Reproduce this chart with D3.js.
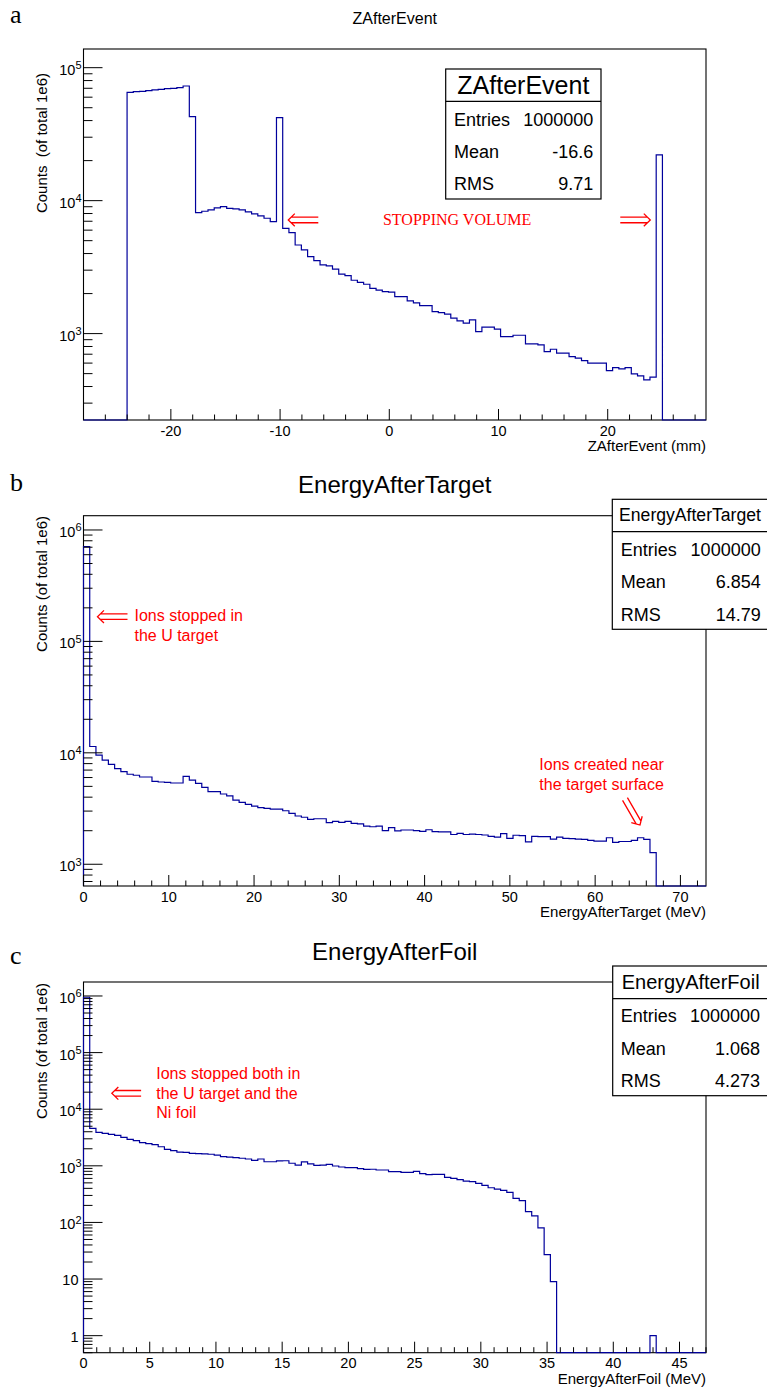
<!DOCTYPE html>
<html>
<head>
<meta charset="utf-8">
<script src="https://cdn.jsdelivr.net/npm/d3@7"></script>
<style>
  body { margin: 0; background: #fff; }
  svg text { font-family: "Liberation Sans", Arial, Helvetica, sans-serif; }
</style>
</head>
<body>
<svg id="chart" width="767" height="1389"></svg>
<script>
// ---- bin contents (100 bins per histogram) ----
const zAfterEventCounts = [
  0, 0, 0, 0, 0, 0, 0, 65300, 66100, 66400,
  67200, 68000, 68800, 69500, 70000, 70900, 72800, 42800, 8130, 8320,
  8510, 8810, 9020, 8760, 8670, 8510, 8220, 7940, 7670, 7370,
  6950, 42100, 6190, 5740, 4640, 4260, 3790, 3540, 3290, 3230,
  3050, 2800, 2730, 2520, 2430, 2350, 2190, 2120, 2070, 2050,
  1900, 1900, 1760, 1700, 1625, 1625, 1465, 1440, 1400, 1306,
  1246, 1197, 1268, 1035, 1117, 1117, 1079, 950, 950, 972,
  972, 837, 837, 822, 732, 763, 712, 712, 672, 653,
  627, 599, 599, 599, 527, 555, 543, 555, 498, 481,
  449, 470, 22100, 0, 0, 0, 0, 0, 0, 0
];
const energyAfterTargetCounts = [
  710000, 11400, 9550, 8600, 7880, 7210, 6780, 6420, 6290, 6070,
  6070, 5550, 5470, 5430, 5360, 5360, 6150, 5700, 5330, 4900,
  4480, 4480, 4270, 4100, 3770, 3590, 3450, 3330, 3220, 3170,
  3130, 3130, 3020, 2860, 2710, 2640, 2530, 2560, 2560, 2360,
  2430, 2380, 2430, 2330, 2300, 2200, 2170, 2200, 2000, 2130,
  1990, 2030, 2030, 2000, 1970, 2040, 1960, 1950, 1950, 1850,
  1890, 1850, 1860, 1850, 1830, 1780, 1750, 1880, 1710, 1820,
  1810, 1590, 1780, 1770, 1770, 1680, 1750, 1710, 1700, 1680,
  1670, 1640, 1610, 1610, 1730, 1570, 1600, 1600, 1640, 1730,
  1670, 1270, 0, 0, 0, 0, 0, 0, 0, 0
];
const energyAfterFoilCounts = [
  950000, 4590, 3910, 3750, 3600, 3460, 3190, 2940, 2780, 2560,
  2460, 2360, 2170, 1950, 1850, 1750, 1730, 1660, 1640, 1620,
  1600, 1550, 1450, 1430, 1390, 1360, 1320, 1250, 1320, 1180,
  1180, 1220, 1230, 1110, 1030, 1170, 1080, 1020, 1030, 1060,
  993, 953, 927, 927, 889, 866, 870, 843, 843, 790,
  787, 767, 767, 798, 726, 697, 706, 706, 627, 601,
  569, 538, 524, 490, 452, 410, 389, 369, 340, 267,
  242, 155, 131, 80, 27, 9, 0, 0, 0, 0,
  0, 0, 0, 0, 0, 0, 0, 0, 0, 0,
  0, 1, 0, 0, 0, 0, 0, 0, 0, 0
];

// ---- axis ranges ----
const zRange = [-28, 29];
const targetRange = [0, 73];
const foilRange = [0, 47];
const zCountRange = [224, 1.382e5];
const targetCountRange = [638, 1.343e6];
const foilCountRange = [0.5, 1.766e6];

// ---- statistics boxes ----
const statLabels = ["Entries", "Mean", "RMS"];
const zStats = ["1000000", "-16.6", "9.71"];
const targetStats = ["1000000", "6.854", "14.79"];
const foilStats = ["1000000", "1.068", "4.273"];

const svg = d3.select("#chart");
const LEFT = 83.5, RIGHT = 706;
const HIST_COLOR = "#00009c";
const RED = "#ff0000";

const panels = [
  {
    letter: "a", letterY: 23,
    title: "ZAfterEvent", titleSize: 16, titleY: 24,
    counts: zAfterEventCounts, xRange: zRange, yRange: zCountRange,
    top: 49, bottom: 420, xMajor: 10, xMinor: 2,
    xTitle: "ZAfterEvent (mm)", yTitle: "Counts  (of total 1e6)", yTitleEnd: 73,
    stats: { name: "ZAfterEvent", values: zStats, x0: 445.7, x1: 601, y0: 69, y1: 199,
             div: 101.3, nameSize: 25, nameY: 94, rowY: [126, 157.7, 190], lx: 454, vx: 593.3 },
    notes: [
      { lines: ["STOPPING VOLUME"], x: -0.58, y: 6510, serif: true, size: 16 }
    ],
    arrows: [
      { from: [-6.5, 7160], to: [-9.25, 7160] },
      { from: [21.15, 7160], to: [23.9, 7160] }
    ]
  },
  {
    letter: "b", letterY: 491,
    title: "EnergyAfterTarget", titleSize: 24, titleY: 493,
    counts: energyAfterTargetCounts, xRange: targetRange, yRange: targetCountRange,
    top: 515.7, bottom: 886, xMajor: 10, xMinor: 2,
    xTitle: "EnergyAfterTarget (MeV)", yTitle: "Counts (of total 1e6)", yTitleEnd: 516,
    stats: { name: "EnergyAfterTarget", values: targetStats, x0: 612.3, x1: 772, y0: 499.3, y1: 629.3,
             div: 531.7, nameSize: 17.6, nameY: 521, nameX: 690, rowY: [556, 588, 620.7], lx: 620.7, vx: 760.7 },
    notes: [
      { lines: ["Ions stopped in", "the U target"], x: 5.98, y: 151000, size: 16 },
      { lines: ["Ions created near", "the target surface"], x: 53.46, y: 7010, size: 16 }
    ],
    arrows: [
      { from: [5.16, 166700], to: [1.64, 166700] },
      { from: [63.5, 3850], to: [65.26, 2250] }
    ]
  },
  {
    letter: "c", letterY: 964,
    title: "EnergyAfterFoil", titleSize: 24, titleY: 960,
    counts: energyAfterFoilCounts, xRange: foilRange, yRange: foilCountRange,
    top: 982, bottom: 1352.7, xMajor: 5, xMinor: 1,
    xTitle: "EnergyAfterFoil (MeV)", yTitle: "Counts (of total 1e6)", yTitleEnd: 983,
    stats: { name: "EnergyAfterFoil", values: foilStats, x0: 612.7, x1: 772, y0: 966, y1: 1095.7,
             div: 998.7, nameSize: 20, nameY: 989, nameX: 690.7, rowY: [1022.3, 1055, 1086.7], lx: 620.7, vx: 760 },
    notes: [
      { lines: ["Ions stopped both in", "the U target and the", "Ni foil"], x: 5.49, y: 34200, size: 16 }
    ],
    arrows: [
      { from: [4.35, 19100], to: [2.14, 19100] }
    ]
  }
];

// Open double arrow (⇐ style) from tail to tip, in pixel space
function doubleArrow(g, x1, y1, x2, y2) {
  const dx = x2 - x1, dy = y2 - y1, len = Math.hypot(dx, dy);
  const ux = dx / len, uy = dy / len, px = -uy, py = ux;
  const gap = 2.8, back = 6.5, half = 6.3;
  const path = d3.path();
  [-1, 1].forEach(s => {
    path.moveTo(x1 + px * gap * s, y1 + py * gap * s);
    path.lineTo(x2 - ux * 2.6 + px * gap * s, y2 - uy * 2.6 + py * gap * s);
  });
  path.moveTo(x2 - ux * back + px * half, y2 - uy * back + py * half);
  path.lineTo(x2, y2);
  path.lineTo(x2 - ux * back - px * half, y2 - uy * back - py * half);
  g.append("path").attr("d", path.toString())
    .attr("fill", "none").attr("stroke", RED).attr("stroke-width", 1.3);
}

panels.forEach(p => {
  const g = svg.append("g");
  const x = d3.scaleLinear().domain(p.xRange).range([LEFT, RIGHT]);
  const y = d3.scaleLog().domain(p.yRange).range([p.bottom, p.top]);
  const midX = (LEFT + RIGHT) / 2;

  // panel letter and title
  g.append("text").attr("x", 10).attr("y", p.letterY)
    .style("font-family", '"Liberation Serif", "Times New Roman", serif')
    .attr("font-size", 26).text(p.letter);
  g.append("text").attr("x", midX).attr("y", p.titleY)
    .attr("text-anchor", "middle").attr("font-size", p.titleSize).text(p.title);

  // frame
  g.append("rect").attr("x", LEFT).attr("y", p.top)
    .attr("width", RIGHT - LEFT).attr("height", p.bottom - p.top)
    .attr("fill", "#fff").attr("stroke", "#000").attr("stroke-width", 1.1);

  // histogram outline (empty bins sit on the lower edge of the log axis)
  const n = p.counts.length;
  const w = (p.xRange[1] - p.xRange[0]) / n;
  const floor = p.yRange[0];
  const pts = [[p.xRange[0], floor]];
  p.counts.forEach((c, i) => {
    const lo = p.xRange[0] + i * w;
    const v = Math.max(c, floor);
    pts.push([lo, v], [lo + w, v]);
  });
  pts.push([p.xRange[1], floor]);
  g.append("path")
    .attr("d", d3.line().x(d => x(d[0])).y(d => y(d[1]))(pts))
    .attr("fill", "none").attr("stroke", HIST_COLOR).attr("stroke-width", 1.2);

  // x axis ticks (inside the frame)
  const xTicks = g.append("g").attr("stroke", "#000").attr("stroke-width", 1);
  const minorVals = d3.range(Math.ceil(p.xRange[0] / p.xMinor) * p.xMinor, p.xRange[1] + 1e-9, p.xMinor);
  minorVals.forEach(v => {
    const isMajor = Math.abs(v / p.xMajor - Math.round(v / p.xMajor)) < 1e-9;
    const len = isMajor ? 11 : 5.5;
    xTicks.append("line").attr("x1", x(v)).attr("x2", x(v))
      .attr("y1", p.bottom).attr("y2", p.bottom - len);
    if (isMajor) {
      g.append("text").attr("x", x(v)).attr("y", p.bottom + 15.5)
        .attr("text-anchor", "middle").attr("font-size", 14.5)
        .text(d3.format("d")(v).replace("−", "-"));
    }
  });
  g.append("text").attr("x", RIGHT).attr("y", p.bottom + 31)
    .attr("text-anchor", "end").attr("font-size", 15).text(p.xTitle);

  // log y axis ticks
  const yTicks = g.append("g").attr("stroke", "#000").attr("stroke-width", 1);
  const eLo = Math.floor(Math.log10(p.yRange[0])), eHi = Math.ceil(Math.log10(p.yRange[1]));
  for (let e = eLo; e <= eHi; e++) {
    for (let k = 1; k <= 9; k++) {
      const v = k * Math.pow(10, e);
      if (v < p.yRange[0] || v > p.yRange[1]) continue;
      const yy = y(v);
      yTicks.append("line").attr("x1", LEFT).attr("x2", LEFT + (k === 1 ? 19 : 9))
        .attr("y1", yy).attr("y2", yy);
      if (k === 1) {
        if (e <= 1) {
          g.append("text").attr("x", 78.5).attr("y", yy + 6)
            .attr("text-anchor", "end").attr("font-size", 14.5).text(e === 0 ? "1" : "10");
        } else {
          const t = g.append("text").attr("x", 81.5).attr("y", yy + 7)
            .attr("text-anchor", "end").attr("font-size", 14.5);
          t.append("tspan").text("10");
          t.append("tspan").attr("font-size", 11).attr("dy", -5.5).text(e);
        }
      }
    }
  }
  g.append("text")
    .attr("transform", `translate(46.7,${p.yTitleEnd}) rotate(-90)`)
    .attr("text-anchor", "end").attr("font-size", 15)
    .style("white-space", "pre").text(p.yTitle);

  // statistics box
  const s = p.stats;
  g.append("rect").attr("x", s.x0).attr("y", s.y0)
    .attr("width", s.x1 - s.x0).attr("height", s.y1 - s.y0)
    .attr("fill", "#fff").attr("stroke", "#000").attr("stroke-width", 1.2);
  g.append("line").attr("x1", s.x0).attr("x2", s.x1).attr("y1", s.div).attr("y2", s.div)
    .attr("stroke", "#000").attr("stroke-width", 1.2);
  g.append("text").attr("x", s.nameX !== undefined ? s.nameX : (s.x0 + s.x1) / 2).attr("y", s.nameY)
    .attr("text-anchor", "middle").attr("font-size", s.nameSize).text(s.name);
  statLabels.forEach((lab, i) => {
    g.append("text").attr("x", s.lx).attr("y", s.rowY[i]).attr("font-size", 18).text(lab);
    g.append("text").attr("x", s.vx).attr("y", s.rowY[i]).attr("text-anchor", "end")
      .attr("font-size", 18).text(s.values[i]);
  });

  // annotations
  p.notes.forEach(nt => {
    const t = g.append("text").attr("x", x(nt.x)).attr("y", y(nt.y))
      .attr("fill", RED).attr("font-size", nt.size);
    if (nt.serif) t.style("font-family", '"Liberation Serif", "Times New Roman", serif');
    nt.lines.forEach((ln, i) => {
      t.append("tspan").attr("x", x(nt.x)).attr("dy", i === 0 ? 0 : 19.6).text(ln);
    });
  });
  p.arrows.forEach(a => {
    doubleArrow(g, x(a.from[0]), y(a.from[1]), x(a.to[0]), y(a.to[1]));
  });
});
</script>
</body>
</html>
